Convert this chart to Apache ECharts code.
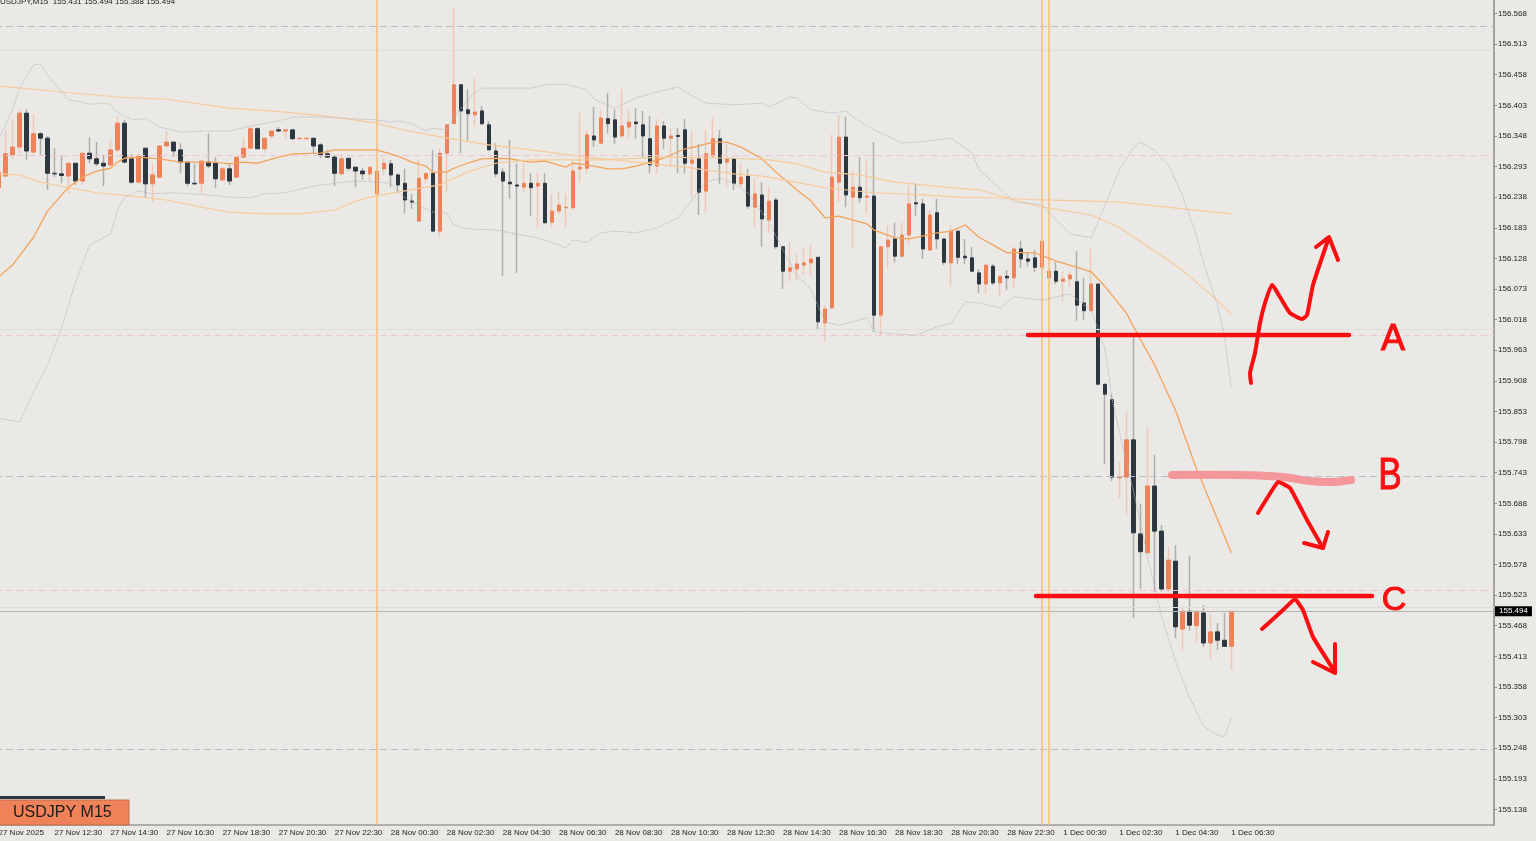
<!DOCTYPE html>
<html>
<head>
<meta charset="utf-8">
<title>USDJPY M15</title>
<style>
html, body { margin: 0; padding: 0; background: #eae9e5; }
#main { width: 1536px; height: 841px; }
</style>
<script src="https://cdn.jsdelivr.net/npm/echarts@6/dist/echarts.min.js"></script>
</head>
<body>
<div id="main"></div>
<script>
// time labels, one every 8 bars
var timeLabels = ['27 Nov 2025', '27 Nov 12:30', '27 Nov 14:30', '27 Nov 16:30', '27 Nov 18:30', '27 Nov 20:30', '27 Nov 22:30',
    '28 Nov 00:30', '28 Nov 02:30', '28 Nov 04:30', '28 Nov 06:30', '28 Nov 08:30', '28 Nov 10:30', '28 Nov 12:30',
    '28 Nov 14:30', '28 Nov 16:30', '28 Nov 18:30', '28 Nov 20:30', '28 Nov 22:30',
    '1 Dec 00:30', '1 Dec 02:30', '1 Dec 04:30', '1 Dec 06:30'];

var priceTicks = [156.568, 156.513, 156.458, 156.403, 156.348, 156.293, 156.238, 156.183, 156.128, 156.073, 156.018,
    155.963, 155.908, 155.853, 155.798, 155.743, 155.688, 155.633, 155.578, 155.523, 155.468, 155.413, 155.358, 155.303,
    155.248, 155.193, 155.138];

var opens = [156.255, 156.276, 156.314, 156.328, 156.389, 156.319, 156.352, 156.344, 156.281, 156.280,
    156.276, 156.299, 156.267, 156.317, 156.307, 156.299, 156.296, 156.323, 156.371, 156.307,
    156.265, 156.326, 156.262, 156.274, 156.330, 156.337, 156.323, 156.301, 156.263, 156.263,
    156.301, 156.299, 156.269, 156.289, 156.274, 156.310, 156.326, 156.361, 156.325, 156.348,
    156.359, 156.357, 156.359, 156.343, 156.343, 156.344, 156.332, 156.316, 156.310, 156.280,
    156.308, 156.292, 156.285, 156.280, 156.244, 156.289, 156.298, 156.278, 156.263, 156.231,
    156.195, 156.271, 156.281, 156.177, 156.317, 156.370, 156.440, 156.395, 156.386, 156.393,
    156.368, 156.321, 156.283, 156.265, 156.260, 156.256, 156.263, 156.258, 156.263, 156.193,
    156.213, 156.219, 156.219, 156.289, 156.290, 156.348, 156.335, 156.379, 156.377, 156.348,
    156.364, 156.373, 156.368, 156.343, 156.294, 156.366, 156.344, 156.349, 156.359, 156.299,
    156.307, 156.249, 156.312, 156.343, 156.301, 156.307, 156.262, 156.276, 156.220, 156.242,
    156.197, 156.233, 156.149, 156.105, 156.109, 156.116, 156.120, 156.130, 156.012, 156.039,
    156.265, 156.346, 156.238, 156.256, 156.238, 156.240, 156.026, 156.149, 156.163, 156.132,
    156.170, 156.228, 156.226, 156.143, 156.210, 156.163, 156.120, 156.177, 156.132, 156.129,
    156.102, 156.082, 156.114, 156.084, 156.096, 156.093, 156.145, 156.127, 156.129, 156.112,
    156.093, 156.105, 156.087, 156.091, 156.086, 156.048, 156.034, 156.082, 155.902, 155.874,
    155.734, 155.735, 155.802, 155.633, 155.599, 155.719, 155.638, 155.534, 155.584, 155.462,
    155.494, 155.468, 155.491, 155.437, 155.457, 155.442, 155.431];

var closes = [156.283, 156.316, 156.328, 156.389, 156.321, 156.352, 156.344, 156.281, 156.280, 156.277,
    156.299, 156.267, 156.317, 156.307, 156.298, 156.294, 156.323, 156.371, 156.301, 156.265,
    156.312, 156.262, 156.278, 156.330, 156.337, 156.321, 156.301, 156.263, 156.262, 156.303,
    156.294, 156.271, 156.289, 156.267, 156.310, 156.326, 156.361, 156.325, 156.344, 156.357,
    156.357, 156.359, 156.343, 156.344, 156.344, 156.330, 156.314, 156.310, 156.281, 156.307,
    156.290, 156.285, 156.280, 156.292, 156.285, 156.299, 156.278, 156.260, 156.233, 156.229,
    156.272, 156.281, 156.177, 156.317, 156.368, 156.440, 156.393, 156.388, 156.391, 156.370,
    156.323, 156.280, 156.267, 156.262, 156.258, 156.263, 156.255, 156.263, 156.192, 156.213,
    156.224, 156.220, 156.285, 156.292, 156.350, 156.341, 156.380, 156.370, 156.346, 156.366,
    156.373, 156.370, 156.348, 156.296, 156.366, 156.344, 156.348, 156.347, 156.299, 156.305,
    156.247, 156.316, 156.343, 156.299, 156.307, 156.263, 156.274, 156.222, 156.244, 156.199,
    156.231, 156.149, 156.105, 156.111, 156.118, 156.120, 156.127, 156.014, 156.037, 156.274,
    156.346, 156.242, 156.256, 156.237, 156.240, 156.026, 156.149, 156.161, 156.132, 156.170,
    156.226, 156.226, 156.145, 156.206, 156.163, 156.121, 156.177, 156.130, 156.129, 156.105,
    156.082, 156.116, 156.084, 156.096, 156.093, 156.145, 156.127, 156.123, 156.112, 156.159,
    156.105, 156.087, 156.091, 156.098, 156.044, 156.034, 156.082, 155.902, 155.884, 155.735,
    155.735, 155.802, 155.635, 155.601, 155.719, 155.638, 155.534, 155.586, 155.466, 155.494,
    155.469, 155.494, 155.437, 155.457, 155.442, 155.431, 155.494];

var lows = [156.210, 156.274, 156.308, 156.317, 156.305, 156.317, 156.314, 156.251, 156.274, 156.263,
    156.244, 156.260, 156.260, 156.299, 156.294, 156.258, 156.292, 156.319, 156.299, 156.262,
    156.262, 156.238, 156.229, 156.271, 156.330, 156.310, 156.281, 156.258, 156.260, 156.246,
    156.290, 156.255, 156.267, 156.260, 156.272, 156.308, 156.326, 156.325, 156.317, 156.344,
    156.355, 156.344, 156.341, 156.343, 156.343, 156.317, 156.308, 156.308, 156.258, 156.278,
    156.285, 156.256, 156.269, 156.267, 156.242, 156.278, 156.256, 156.247, 156.208, 156.217,
    156.195, 156.263, 156.177, 156.166, 156.246, 156.370, 156.317, 156.337, 156.366, 156.368,
    156.323, 156.274, 156.096, 156.235, 156.102, 156.247, 156.204, 156.183, 156.192, 156.184,
    156.208, 156.184, 156.215, 156.265, 156.280, 156.328, 156.334, 156.352, 156.334, 156.344,
    156.344, 156.343, 156.308, 156.281, 156.280, 156.325, 156.292, 156.281, 156.280, 156.238,
    156.206, 156.210, 156.308, 156.262, 156.256, 156.251, 156.256, 156.217, 156.184, 156.149,
    156.174, 156.145, 156.073, 156.087, 156.089, 156.098, 156.095, 156.000, 155.978, 156.039,
    156.229, 156.220, 156.147, 156.228, 156.208, 155.996, 155.990, 156.111, 156.121, 156.130,
    156.154, 156.204, 156.127, 156.143, 156.145, 156.116, 156.077, 156.118, 156.118, 156.104,
    156.066, 156.064, 156.080, 156.060, 156.071, 156.075, 156.111, 156.114, 156.104, 156.112,
    156.093, 156.082, 156.050, 156.077, 156.016, 156.017, 156.034, 155.900, 155.759, 155.728,
    155.698, 155.667, 155.482, 155.534, 155.599, 155.529, 155.529, 155.527, 155.446, 155.423,
    155.459, 155.437, 155.430, 155.408, 155.425, 155.431, 155.388];

var highs = [156.296, 156.359, 156.379, 156.396, 156.396, 156.388, 156.355, 156.348, 156.326, 156.312,
    156.299, 156.299, 156.317, 156.346, 156.337, 156.314, 156.341, 156.384, 156.377, 156.316,
    156.317, 156.326, 156.299, 156.330, 156.357, 156.337, 156.335, 156.301, 156.298, 156.303,
    156.353, 156.310, 156.292, 156.299, 156.310, 156.344, 156.366, 156.364, 156.344, 156.357,
    156.364, 156.359, 156.359, 156.346, 156.346, 156.344, 156.335, 156.323, 156.314, 156.316,
    156.308, 156.292, 156.290, 156.292, 156.285, 156.308, 156.305, 156.281, 156.289, 156.244,
    156.305, 156.281, 156.323, 156.326, 156.368, 156.578, 156.440, 156.432, 156.452, 156.402,
    156.375, 156.335, 156.290, 156.341, 156.299, 156.301, 156.281, 156.281, 156.281, 156.244,
    156.247, 156.244, 156.305, 156.389, 156.359, 156.400, 156.395, 156.425, 156.396, 156.432,
    156.395, 156.398, 156.393, 156.384, 156.379, 156.375, 156.362, 156.362, 156.379, 156.357,
    156.334, 156.359, 156.382, 156.359, 156.335, 156.307, 156.298, 156.289, 156.271, 156.265,
    156.256, 156.237, 156.149, 156.157, 156.136, 156.147, 156.152, 156.130, 156.044, 156.350,
    156.386, 156.382, 156.285, 156.310, 156.303, 156.337, 156.149, 156.188, 156.192, 156.193,
    156.260, 156.263, 156.235, 156.215, 156.235, 156.163, 156.188, 156.177, 156.163, 156.149,
    156.109, 156.116, 156.118, 156.096, 156.107, 156.149, 156.159, 156.138, 156.143, 156.159,
    156.105, 156.121, 156.104, 156.104, 156.141, 156.093, 156.145, 156.082, 155.902, 155.884,
    155.762, 155.852, 155.987, 155.687, 155.823, 155.775, 155.649, 155.611, 155.613, 155.500,
    155.593, 155.494, 155.505, 155.489, 155.473, 155.491, 155.494];

// indicator lines, [bar index, price]
var maFast = [[0, 156.095], [2, 156.116], [5, 156.166], [7, 156.213], [10, 156.256], [12, 156.274], [14, 156.285], [16, 156.290],
    [17, 156.301], [18, 156.308], [20, 156.310], [23, 156.307], [26, 156.301], [31, 156.301], [33, 156.298], [35, 156.301],
    [37, 156.299], [40, 156.310], [42, 156.316], [46, 156.317], [48, 156.323], [54, 156.323], [57, 156.312], [59, 156.301],
    [61, 156.294], [62, 156.283], [64, 156.283], [65, 156.290], [67, 156.299], [69, 156.307], [71, 156.308], [73, 156.307],
    [76, 156.301], [78, 156.303], [81, 156.292], [82, 156.299], [84, 156.296], [87, 156.289], [89, 156.289], [91, 156.294],
    [93, 156.301], [95, 156.308], [98, 156.325], [100, 156.330], [102, 156.337], [104, 156.337], [106, 156.328], [109, 156.307],
    [111, 156.283], [114, 156.251], [116, 156.231], [118, 156.201], [120, 156.204], [122, 156.197], [124, 156.190], [125, 156.179],
    [128, 156.165], [130, 156.163], [134, 156.174], [136, 156.177], [138, 156.188], [140, 156.166], [144, 156.138], [145, 156.139],
    [148, 156.138], [151, 156.123], [154, 156.112], [156, 156.104], [158, 156.077], [161, 156.030], [163, 155.983], [165, 155.938],
    [168, 155.856], [171, 155.751], [176, 155.599]];

var maSlowA = [[0, 156.438], [9, 156.427], [17, 156.418], [24, 156.414], [33, 156.398], [41, 156.391], [48, 156.382], [54, 156.371],
    [57, 156.361], [64, 156.344], [70, 156.332], [76, 156.323], [84, 156.310], [91, 156.301], [98, 156.292], [105, 156.280],
    [109, 156.276], [113, 156.267], [118, 156.255], [125, 156.246], [132, 156.242], [137, 156.238], [142, 156.237], [149, 156.233],
    [156, 156.231], [160, 156.229], [176, 156.208]];

var maSlowB = [[0, 156.280], [3, 156.278], [6, 156.265], [10, 156.255], [14, 156.246], [19, 156.240], [24, 156.233], [29, 156.220],
    [33, 156.211], [38, 156.208], [43, 156.208], [48, 156.215], [51, 156.231], [53, 156.238], [57, 156.247], [63, 156.260],
    [67, 156.283], [71, 156.299], [76, 156.305], [86, 156.305], [95, 156.310], [105, 156.308], [110, 156.305], [114, 156.298],
    [118, 156.283], [123, 156.278], [128, 156.265], [135, 156.256], [140, 156.251], [144, 156.237], [149, 156.220], [156, 156.206],
    [160, 156.184], [169, 156.107], [174, 156.053], [176, 156.028]];

var bandUpper = [[0, 156.341], [2, 156.395], [3, 156.434], [5, 156.476], [6, 156.477], [7, 156.458], [10, 156.413], [12, 156.409],
    [13, 156.405], [15, 156.407], [16, 156.404], [17, 156.391], [19, 156.377], [21, 156.379], [23, 156.364], [26, 156.355],
    [30, 156.357], [33, 156.357], [36, 156.366], [40, 156.375], [42, 156.382], [46, 156.382], [50, 156.379], [54, 156.377],
    [56, 156.373], [57, 156.375], [59, 156.370], [61, 156.357], [62, 156.362], [64, 156.359], [65, 156.382], [68, 156.427],
    [69, 156.434], [76, 156.434], [78, 156.440], [81, 156.441], [84, 156.431], [85, 156.414], [88, 156.398], [91, 156.416],
    [94, 156.427], [97, 156.436], [99, 156.420], [101, 156.407], [105, 156.404], [109, 156.407], [110, 156.400], [113, 156.418],
    [114, 156.416], [116, 156.395], [119, 156.389], [121, 156.393], [123, 156.373], [125, 156.359], [129, 156.335], [131, 156.337],
    [136, 156.344], [139, 156.317], [140, 156.287], [142, 156.265], [145, 156.229], [149, 156.224], [151, 156.197], [153, 156.172],
    [156, 156.165], [158, 156.224], [160, 156.287], [162, 156.326], [163, 156.337], [165, 156.323], [167, 156.296], [169, 156.242],
    [171, 156.170], [172, 156.121], [174, 156.044], [175, 155.990], [176, 155.895]];

var bandLower = [[0, 155.841], [3, 155.834], [5, 155.888], [7, 155.937], [9, 156.003], [11, 156.086], [13, 156.152], [16, 156.172],
    [17, 156.215], [18, 156.238], [20, 156.249], [22, 156.244], [25, 156.246], [30, 156.242], [33, 156.238], [36, 156.237],
    [38, 156.244], [41, 156.246], [45, 156.258], [48, 156.263], [51, 156.267], [54, 156.265], [56, 156.263], [57, 156.247],
    [59, 156.229], [62, 156.211], [64, 156.210], [65, 156.188], [67, 156.181], [71, 156.179], [73, 156.174], [77, 156.165],
    [81, 156.147], [82, 156.161], [84, 156.157], [86, 156.174], [88, 156.177], [91, 156.174], [94, 156.183], [97, 156.201],
    [99, 156.233], [101, 156.265], [103, 156.272], [105, 156.263], [107, 156.246], [110, 156.193], [112, 156.143], [114, 156.098],
    [116, 156.071], [118, 156.014], [120, 156.008], [124, 156.021], [125, 155.996], [128, 155.992], [131, 155.990], [134, 156.005],
    [136, 156.012], [138, 156.050], [140, 156.048], [143, 156.039], [145, 156.059], [149, 156.053], [151, 156.059], [153, 156.064],
    [156, 156.035], [158, 155.964], [159, 155.874], [161, 155.762], [162, 155.712], [164, 155.595], [166, 155.487], [168, 155.406],
    [170, 155.340], [172, 155.288], [174, 155.272], [175, 155.268], [176, 155.301]];

var levelsBlue = [156.546, 155.736, 155.247];
var levelsPink = [156.314, 155.990, 155.532];
var levelsLight = [156.502, 156.001, 155.502];
var lastPrice = 155.494;
var sessionBars = [54, 149, 150];

var BG = '#eae9e5';
var UP = '#f0825a';
var DOWN = '#2c3740';
var RED = '#fb0d10';

var slots = 214; // bars plus the empty room right of the last one
var categories = [];
for (var i = 0; i < slots; i++) {
    categories.push(i % 8 === 0 && timeLabels[i / 8] ? timeLabels[i / 8] : '');
}

var bodies = [], wicks = [];
opens.forEach(function (o, k) {
    bodies.push([o, closes[k], Math.min(o, closes[k]), Math.max(o, closes[k])]);
    wicks.push([o, closes[k], lows[k], highs[k]]);
});

function hline(v, color, type, width) {
    return { yAxis: v, lineStyle: { color: color, type: type, width: width } };
}

var levelLines = [];
levelsBlue.forEach(function (v) { levelLines.push(hline(v, '#b9bdca', [7, 4], 1)); });
levelsPink.forEach(function (v) { levelLines.push(hline(v, '#efc6d4', [7, 4], 1)); });
levelsLight.forEach(function (v) { levelLines.push(hline(v, '#dfdedb', 'solid', 1)); });
levelLines.push(hline(lastPrice, '#b4b4b0', 'solid', 1));
sessionBars.forEach(function (b) {
    levelLines.push({ xAxis: b, lineStyle: { color: '#f5bd78', type: 'solid', width: 1.5 } });
});

function lineSeries(data, color, width, type) {
    return {
        type: 'line', data: data, showSymbol: false, silent: true, z: 5,
        lineStyle: { color: color, width: width, type: type || 'solid' }
    };
}

// the hand drawn marks on top of the chart
function ink(points, smooth, color, width) {
    return {
        type: 'polyline', z: 100, silent: true,
        shape: { points: points, smooth: smooth || 0 },
        style: { stroke: color || RED, lineWidth: width || 4, fill: null, lineCap: 'round', lineJoin: 'round' }
    };
}
function inkText(t, x, y, size, sx) {
    return {
        type: 'text', z: 100, silent: true, x: x, y: y, scaleX: sx || 1,
        style: { text: t, fill: RED, stroke: RED, lineWidth: 1, font: size + 'px "Liberation Sans"', align: 'center', verticalAlign: 'middle' }
    };
}

var chart = echarts.init(document.getElementById('main'));
chart.setOption({
    animation: false,
    backgroundColor: BG,
    title: {
        text: 'USDJPY,M15  ' + [opens[176], highs[176], lows[176], closes[176]].map(function (v) { return v.toFixed(3); }).join(' '),
        left: 0, top: -2, padding: 0,
        textStyle: { fontSize: 8, fontWeight: 'normal', color: '#222', fontFamily: 'Liberation Sans' }
    },
    grid: { left: -5, top: 0, width: 1499, height: 825, outerBoundsMode: 'none' },
    xAxis: {
        type: 'category',
        data: categories,
        boundaryGap: true,
        axisLine: { lineStyle: { color: '#9a9a9a', width: 1.5 } },
        axisTick: {
            alignWithLabel: true, length: 3, lineStyle: { color: '#8a8a8a' },
            interval: function (k, v) { return v !== ''; }
        },
        axisLabel: {
            interval: function (k, v) { return v !== ''; },
            align: 'left', margin: 4, fontSize: 8, color: '#222', fontFamily: 'Liberation Sans'
        },
        splitLine: { show: false }
    },
    yAxis: {
        type: 'value',
        position: 'right',
        min: 155.110,
        max: 156.5923,
        scale: true,
        axisLine: { show: true, lineStyle: { color: '#8a8a8a', width: 1.5 } },
        axisTick: { show: true, length: 3, customValues: priceTicks, lineStyle: { color: '#8a8a8a' } },
        axisLabel: {
            customValues: priceTicks, margin: 4, fontSize: 8, color: '#222', fontFamily: 'Liberation Sans',
            formatter: function (v) { return v.toFixed(3); }
        },
        splitLine: { show: false }
    },
    series: [
        {
            type: 'line', data: [], silent: true, z: 1,
            markLine: { silent: true, symbol: 'none', animation: false, precision: 4, label: { show: false }, data: levelLines }
        },
        {
            type: 'line', data: [], silent: true, z: 6,
            markLine: {
                silent: true, symbol: 'none', animation: false, precision: 4,
                lineStyle: { width: 0 },
                label: {
                    show: true, position: 'end', distance: 1, color: '#fff', backgroundColor: '#000',
                    padding: [1, 4], fontSize: 8, fontFamily: 'Liberation Sans',
                    formatter: function (p) { return p.value.toFixed(3); }
                },
                data: [{ yAxis: lastPrice }]
            }
        },
        {
            type: 'candlestick', data: wicks, barWidth: 1, silent: true, z: 2,
            itemStyle: { color: '#f0c8b7', color0: '#adadac', borderColor: '#f0c8b7', borderColor0: '#adadac', borderWidth: 1.5 }
        },
        {
            type: 'candlestick', data: bodies, barWidth: 4, silent: true, z: 3,
            itemStyle: { color: UP, color0: DOWN, borderColor: UP, borderColor0: DOWN, borderWidth: 1 }
        },
        lineSeries(maFast, '#f3a35c', 1.3),
        lineSeries(maSlowA, '#f6cb9c', 1.2),
        lineSeries(maSlowB, '#f6cb9c', 1.2),
        lineSeries(bandUpper, '#b5b3bd', 1, 'dotted'),
        lineSeries(bandLower, '#b5b3bd', 1, 'dotted')
    ],
    graphic: [
        { type: 'rect', z: 90, silent: true, shape: { x: 0, y: 796, width: 105, height: 3 }, style: { fill: DOWN } },
        { type: 'rect', z: 90, silent: true, shape: { x: -2, y: 800, width: 131, height: 25 }, style: { fill: UP, stroke: '#bd6d4d', lineWidth: 1 } },
        { type: 'text', z: 91, silent: true, x: 13, y: 813, style: { text: 'USDJPY M15', fill: '#1c1c1c', font: '16px "Liberation Sans"', verticalAlign: 'middle' } },

        ink([[1028, 335], [1349, 335]], 0, RED, 4.5),
        ink([[1036, 596], [1372, 596]], 0, RED, 4.5),
        ink([[1172, 475], [1240, 475], [1283, 477], [1310, 481], [1333, 482], [1351, 480]], 0.3, '#f3979a', 8),

        ink([[1251, 383], [1250, 373], [1255, 353], [1260, 323], [1265, 303], [1272, 285], [1280, 297], [1290, 313], [1302, 319], [1307, 315], [1313, 285], [1328, 240]], 0.15),
        ink([[1316, 247], [1329, 237], [1338, 260]]),

        ink([[1258, 513], [1278, 482], [1290, 488], [1307, 520], [1323, 548]], 0.1),
        ink([[1304, 543], [1323, 548], [1328, 532]]),

        ink([[1262, 629], [1283, 610], [1295, 599], [1303, 610], [1313, 637], [1335, 672]], 0.1),
        ink([[1313, 662], [1335, 673], [1335, 644]]),

        inkText('A', 1393, 340, 36),
        inkText('B', 1390, 477, 44, 0.8),
        inkText('C', 1394, 601, 34)
    ]
});
</script>
</body>
</html>
